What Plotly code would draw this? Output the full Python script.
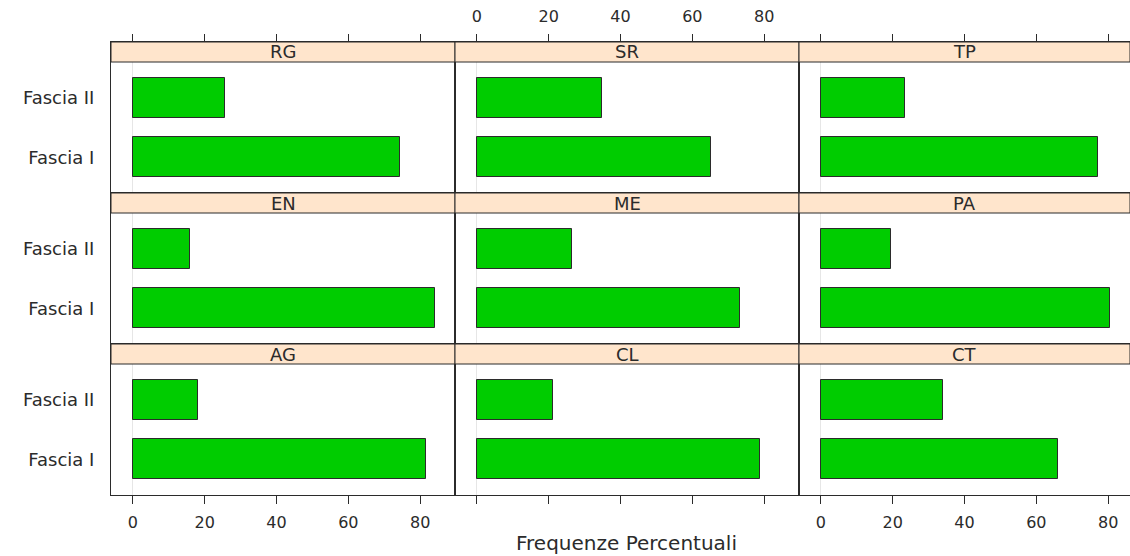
import plotly.graph_objects as go

# Percent frequencies by area and band
panels = ["RG", "SR", "TP", "EN", "ME", "PA", "AG", "CL", "CT"]
categories = ["Fascia I", "Fascia II"]
fascia_I = [74.4, 65.1, 77.3, 84.0, 73.4, 80.5, 81.6, 78.8, 66.0]
fascia_II = [25.6, 34.9, 23.4, 16.0, 26.6, 19.5, 18.2, 21.2, 34.0]
x_ticks = [0, 20, 40, 60, 80]

W, H = 1130, 556
FONT = "DejaVu Sans"
INK = "#2b2b2b"
BAR = "#00CC00"
STRIP_BG = "#FFE5CC"

# Page geometry (pixels)
col_edges = [111, 455, 799, 1130]
row_edges = [42, 193, 344, 495]
strip_h = 20
x_lo, x_hi = -6.1, 89.7
px_per_unit = (col_edges[1] - col_edges[0]) / (x_hi - x_lo)

fig = go.Figure()
shapes, annotations = [], []

for k, name in enumerate(panels):
    r, c = divmod(k, 3)
    n = k + 1
    suffix = "" if n == 1 else str(n)
    xa, ya = f"x{suffix}", f"y{suffix}"
    fig.add_trace(go.Bar(
        x=[fascia_I[k], fascia_II[k]], y=categories, orientation="h",
        width=2 / 3, marker=dict(color=BAR, line=dict(color=INK, width=1)),
        xaxis=xa, yaxis=ya, showlegend=False, hoverinfo="x+y",
    ))

    left, right = col_edges[c], col_edges[c + 1]
    top, bottom = row_edges[r], row_edges[r + 1]
    row_h = bottom - top
    panel_h = row_h - strip_h
    # category range spans the plotting area; extend it upward to include the strip
    y_lo, y_top = -0.6, 1.6
    y_hi = y_top + strip_h * (y_top - y_lo) / panel_h
    xr_hi = x_lo + (right - left) / px_per_unit

    xax = dict(
        domain=[left / W, right / W], anchor=ya, range=[x_lo, xr_hi],
        showgrid=False, zeroline=True, zerolinecolor="#e6e6e6", zerolinewidth=1,
        showline=True, linecolor=INK, linewidth=1, mirror=True,
        tickvals=x_ticks, ticks="", showticklabels=False,
        tickfont=dict(family=FONT, size=16, color=INK), fixedrange=True,
    )
    if r == 0:
        xax.update(side="top", ticks="outside", ticklen=7, tickcolor=INK,
                   showticklabels=(c == 1), ticklabelstandoff=6)
    elif r == 2:
        xax.update(side="bottom", ticks="outside", ticklen=8, tickcolor=INK,
                   showticklabels=(c != 1), ticklabelstandoff=5)
    yax = dict(
        domain=[1 - bottom / H, 1 - top / H], anchor=xa, range=[y_lo, y_hi],
        type="category", categoryorder="array", categoryarray=categories,
        showgrid=False, zeroline=False, showline=True, linecolor=INK,
        linewidth=1, mirror=(c != 2), ticks="", showticklabels=(c == 0),
        ticklabelstandoff=12, tickfont=dict(family=FONT, size=18, color=INK),
        fixedrange=True,
    )
    fig.layout[f"xaxis{suffix}"] = xax
    fig.layout[f"yaxis{suffix}"] = yax

    strip_frac = strip_h / row_h
    shapes.append(dict(
        type="rect", xref=f"{xa} domain", yref=f"{ya} domain",
        x0=0, x1=1, y0=1 - strip_frac, y1=1, layer="above",
        fillcolor=STRIP_BG, line=dict(color=INK, width=1),
    ))
    annotations.append(dict(
        xref=f"{xa} domain", yref=f"{ya} domain", x=0.5, y=1 - strip_frac / 2,
        text=name, showarrow=False, xanchor="center", yanchor="middle",
        font=dict(family=FONT, size=18, color=INK),
    ))

annotations.append(dict(
    xref="paper", yref="paper", x=626 / W, y=1 - 543 / H,
    text="Frequenze Percentuali", showarrow=False,
    xanchor="center", yanchor="middle",
    font=dict(family=FONT, size=20, color=INK),
))

fig.update_layout(
    width=W, height=H, margin=dict(l=0, r=0, t=0, b=0),
    paper_bgcolor="white", plot_bgcolor="white",
    shapes=shapes, annotations=annotations, bargap=0,
)

fig.write_html("out.html")
